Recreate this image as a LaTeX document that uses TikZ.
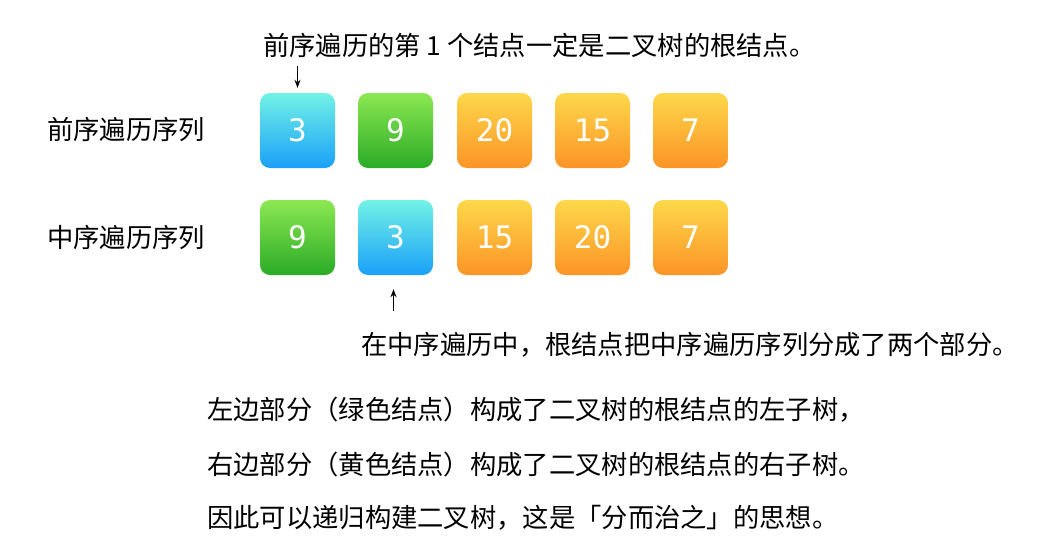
\documentclass[tikz,border=0pt]{standalone}
\usepackage{fontspec}
\setmainfont{Noto Sans CJK SC}
\newfontfamily\digitfont{DejaVu Sans Mono}
\usepackage{tikz}
\usetikzlibrary{arrows.meta}
\definecolor{bluetop}{HTML}{72F2E6}
\definecolor{bluebot}{HTML}{1AA0F8}
\definecolor{greentop}{HTML}{8CE852}
\definecolor{greenbot}{HTML}{2AAB26}
\definecolor{orangetop}{HTML}{FDD84A}
\definecolor{orangebot}{HTML}{FC9427}

\begin{document}
\begin{tikzpicture}[x=1pt,y=-1pt,
  cell/.style={rounded corners=10pt,minimum width=75pt,minimum height=75pt,inner sep=0pt,text=white,font=\digitfont\fontsize{31}{31}\selectfont},
  rootcell/.style={cell,top color=bluetop,bottom color=bluebot},
  leftcell/.style={cell,top color=greentop,bottom color=greenbot},
  rightcell/.style={cell,top color=orangetop,bottom color=orangebot},
  note/.style={anchor=west,inner sep=0pt,font=\fontsize{26.3}{26.3}\selectfont},
  edge/.style={-{Stealth[length=8pt,width=6pt]},draw=black,line width=1.5pt}]
\useasboundingbox (0,0) rectangle (1047,549);
\node[note] (prelabel) at (47,130) {前序遍历序列};
\node[note] (inlabel) at (47,238) {中序遍历序列};
\node[rootcell] (pre1) at (297.5,130.5) {3};
\node[leftcell] (pre2) at (395.5,130.5) {9};
\node[rightcell] (pre3) at (494.5,130.5) {20};
\node[rightcell] (pre4) at (592.5,130.5) {15};
\node[rightcell] (pre5) at (690.5,130.5) {7};
\node[leftcell] (in1) at (297.5,237.5) {9};
\node[rootcell] (in2) at (395.5,237.5) {3};
\node[rightcell] (in3) at (494.5,237.5) {15};
\node[rightcell] (in4) at (592.5,237.5) {20};
\node[rightcell] (in5) at (690.5,237.5) {7};
\node[note] (rootnote) at (263,45) {前序遍历的第 1 个结点一定是二叉树的根结点。};
\node[note] (splitnote) at (361,345) {在中序遍历中，根结点把中序遍历序列分成了两个部分。};
\node[note] (leftnote) at (207,410) {左边部分（绿色结点）构成了二叉树的根结点的左子树，};
\node[note] (rightnote) at (207,464) {右边部分（黄色结点）构成了二叉树的根结点的右子树。};
\node[note] (endnote) at (207,518) {因此可以递归构建二叉树，这是「分而治之」的思想。};
\coordinate (downfrom) at (297.5,66);
\coordinate (upfrom) at (393.5,311);
\draw[edge,shorten >=5pt] (downfrom) -- (downfrom |- pre1.north);
\draw[edge,shorten >=14pt] (upfrom) -- (upfrom |- in2.south);
\end{tikzpicture}
\end{document}
